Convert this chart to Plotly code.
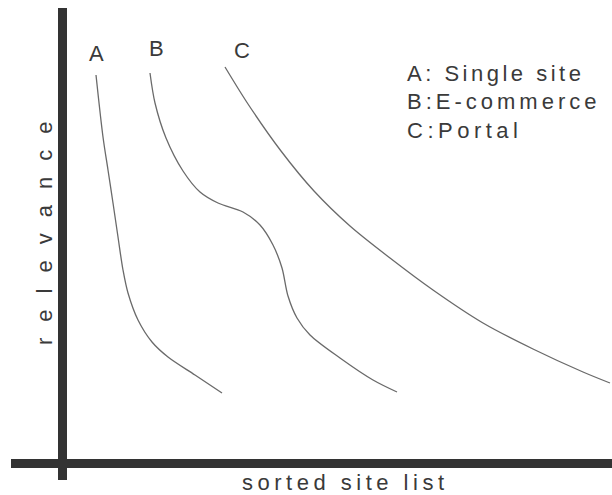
import plotly.graph_objects as go

# Curve data (x = rank position along sorted site list, y = relevance)
a_x = [34, 41, 46, 51, 56, 61, 66, 76, 90, 106, 133, 160]
a_y = [388, 326, 293, 260, 226, 193, 170, 143, 121, 106, 88, 70]

b_x = [88, 93, 104, 121, 138, 156, 181, 198, 211, 220, 226, 235, 248, 278, 311, 335]
b_y = [390, 360, 325, 292, 271, 260, 251, 238, 218, 195, 167, 145, 128, 105, 83, 71]

c_x = [163, 186, 219, 252, 288, 328, 371, 421, 471, 521, 548]
c_y = [396, 359, 312, 272, 237, 205, 173, 140, 114, 91, 80]

curve_labels = ["A", "B", "C"]
legend_lines = ["A: Single site", "B:E-commerce", "C:Portal"]
x_title = "sorted site list"
y_title = "relevance"

FONT = "Liberation Sans, Arial, sans-serif"
TXT = "#3a3a3a"
LINE = "#6a6a6a"

fig = go.Figure()
for xs, ys, name in [(a_x, a_y, "A"), (b_x, b_y, "B"), (c_x, c_y, "C")]:
    fig.add_trace(go.Scatter(x=xs, y=ys, mode="lines", name=name,
                             line=dict(color=LINE, width=1.3, shape="spline", smoothing=0.9),
                             hoverinfo="skip", showlegend=False))

annotations = []
# curve labels
for lab, (lx, ly) in zip(curve_labels, [(34.5, 410), (94, 414.5), (179.5, 413)]):
    annotations.append(dict(x=lx, y=ly, xref="x", yref="y", text=lab, showarrow=False,
                             xanchor="center", yanchor="middle",
                             font=dict(family=FONT, size=22, color=TXT)))
# legend text
for line, ly in zip(legend_lines, [389.5, 361.5, 333]):
    annotations.append(dict(x=343, y=ly, xref="x", yref="y", text=line, showarrow=False,
                            xanchor="left", yanchor="middle", align="left",
                            font=dict(family=FONT, size=22, color=TXT)))
# axis titles
annotations.append(dict(x=-18, y=237, xref="x", yref="y", text=y_title, showarrow=False,
                        textangle=-90, xanchor="center", yanchor="middle",
                        font=dict(family=FONT, size=22, color=TXT)))
annotations.append(dict(x=(345.5 - 11) / 601, y=(480 - 482) / 472, xref="paper", yref="paper",
                        text=x_title, showarrow=False, xanchor="center", yanchor="middle",
                        font=dict(family=FONT, size=22, color=TXT)))

axis_common = dict(showgrid=False, showticklabels=False, ticks="", showline=False,
                   zeroline=True, zerolinecolor="#333333", zerolinewidth=9, fixedrange=True)
fig.update_layout(
    width=612, height=495,
    margin=dict(l=11, r=0, t=8, b=15),
    paper_bgcolor="white", plot_bgcolor="white",
    xaxis=dict(range=[-51, 550], **axis_common),
    yaxis=dict(range=[-17, 455], **axis_common),
    annotations=annotations,
    showlegend=False,
)

post = """
document.body.style.margin = '0';
document.body.style.padding = '0';
document.body.style.overflow = 'hidden';
var gd = document.getElementById('{plot_id}');
function sp(){
  var m = {'relevance':'16px','sorted site list':'4.5px','A: Single site':'3.5px','B:E-commerce':'4px','C:Portal':'4.5px'};
  gd.querySelectorAll('text.annotation-text').forEach(function(t){
    var s = m[(t.textContent||'').trim()];
    if(s){ t.style.letterSpacing = s; }
  });
}
sp();
gd.on('plotly_afterplot', sp);
"""

fig.write_html("out.html", post_script=post, config={"displayModeBar": False})
